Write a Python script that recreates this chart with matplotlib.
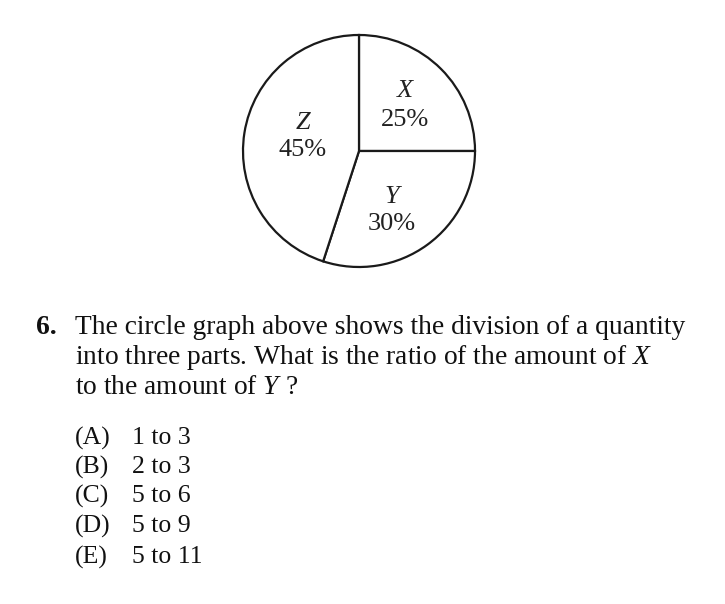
import matplotlib.pyplot as plt

# pie data
labels = ["X", "Y", "Z"]
shares = [25, 30, 45]
pcts = ["25%", "30%", "45%"]

question = ["The circle graph above shows the division of a quantity",
            "into three parts. What is the ratio of the amount of $\\mathit{X}$",
            "to the amount of $\\mathit{Y}$ ?"]
letters = ["(A)", "(B)", "(C)", "(D)", "(E)"]
answers = ["1 to 3", "2 to 3", "5 to 6", "5 to 9", "5 to 11"]

W, H = 725, 604
plt.rcParams['font.family'] = ['Liberation Serif', 'DejaVu Serif']
plt.rcParams['mathtext.fontset'] = 'custom'
plt.rcParams['mathtext.it'] = 'Liberation Serif:italic'
plt.rcParams['mathtext.rm'] = 'Liberation Serif'

fig = plt.figure(figsize=(W / 100, H / 100), dpi=100)
ax = fig.add_axes([0, 0, 1, 1])

cx, cy, r = 359, H - 151, 116
ax.pie(shares, colors=['white'] * 3, startangle=90, counterclock=False,
       center=(cx, cy), radius=r, frame=True,
       wedgeprops=dict(edgecolor='#1a1a1a', linewidth=1.6))
ax.set_xlim(0, W)
ax.set_ylim(0, H)
ax.set_aspect('equal')
ax.axis('off')

# slice labels, placed by hand like the scan
lab_pos = {"X": (405, 91, 120), "Y": (392, 197, 224), "Z": (303, 123, 150)}
for lab, pct in zip(labels, pcts):
    x, y1, y2 = lab_pos[lab]
    ax.text(x, H - y1, lab, fontsize=19, style='italic', ha='center', va='center', color='#222222')
    ax.text(x, H - y2, pct, fontsize=19, ha='center', va='center', color='#222222')

# question text
fs = 19.8
ax.text(36, H - 327, "6.", fontsize=fs, weight='bold', ha='left', va='center', color='#111111')
for i, line in enumerate(question):
    ax.text(75, H - 327 - 30 * i, line, fontsize=fs, ha='left', va='center', color='#111111')

ys = [438, 467, 496, 526, 557]
for let, ans, y in zip(letters, answers, ys):
    ax.text(75, H - y, let, fontsize=18.5, ha='left', va='center', color='#111111')
    ax.text(132, H - y, ans, fontsize=18.5, ha='left', va='center', color='#111111')

fig.savefig("out.png", dpi=100, facecolor='white')
